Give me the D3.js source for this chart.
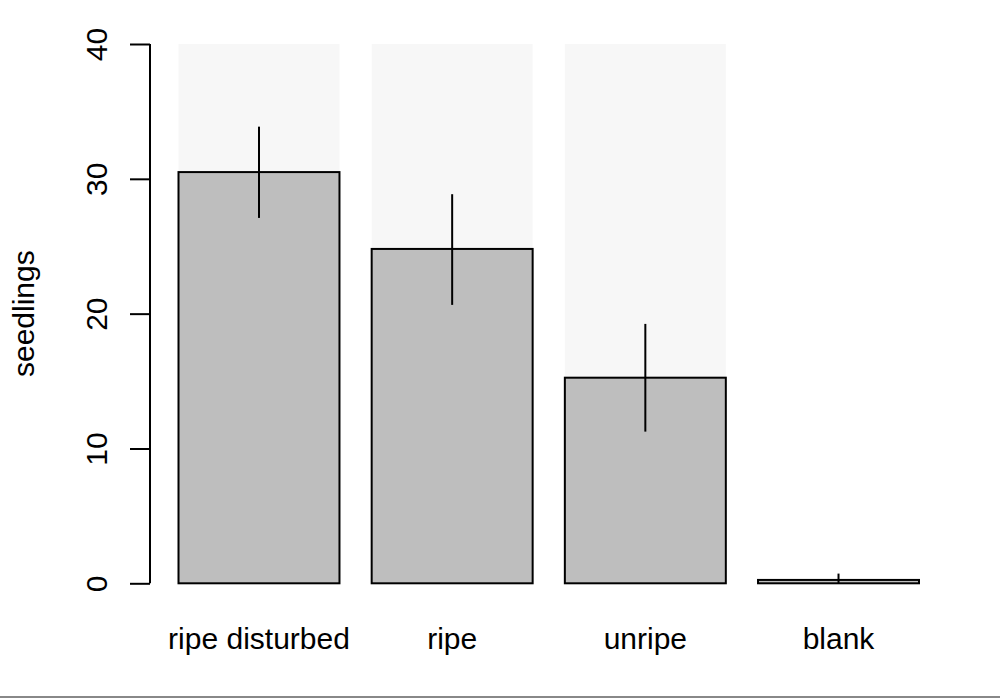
<!DOCTYPE html>
<html>
<head>
<meta charset="utf-8">
<script src="https://cdn.jsdelivr.net/npm/d3@7"></script>
<style>
  body { margin: 0; background: #fff; }
  svg { display: block; font-family: "Liberation Sans", Arial, sans-serif; }
</style>
</head>
<body>
<div class="canvas"></div>
<script>
// data
const categories = ["ripe disturbed", "ripe", "unripe", "blank"]
const means = [30.5, 24.8, 15.25, 0.25]
const errLow = [27.1, 20.65, 11.25, 0]
const errHigh = [33.87, 28.86, 19.24, 0.72]
const backdrop = [40, 40, 40, 0]
const yTicks = [0, 10, 20, 30, 40]

const width = 1000
const height = 698

const svg = d3.select(".canvas").append("svg")
    .attr("width", width)
    .attr("height", height)

// barplot layout: width 1, space 0.2
const x = d3.scaleLinear().domain([0.2, 4.8]).range([178.5, 919])
const y = d3.scaleLinear().domain([0, 40]).range([583.3, 44])

const left = (d, i) => x(0.2 + i * 1.2)
const barW = x(1) - x(0)

// light backdrop up to 40
svg.selectAll("rect.bg")
    .data(backdrop)
    .enter().append("rect")
    .attr("class", "bg")
    .attr("fill", "#f7f7f7")
    .attr("x", left)
    .attr("width", barW)
    .attr("y", d => y(d))
    .attr("height", d => y(0) - y(d))

svg.selectAll("rect.bar")
    .data(means)
    .enter().append("rect")
    .attr("class", "bar")
    .attr("fill", "#bebebe")
    .attr("stroke", "#000")
    .attr("stroke-width", 2)
    .attr("x", left)
    .attr("width", barW)
    .attr("y", d => y(d))
    .attr("height", d => y(0) - y(d))

svg.selectAll("line.err")
    .data(means)
    .enter().append("line")
    .attr("class", "err")
    .attr("stroke", "#000")
    .attr("stroke-width", 2)
    .attr("x1", (d, i) => left(d, i) + barW / 2)
    .attr("x2", (d, i) => left(d, i) + barW / 2)
    .attr("y1", (d, i) => y(errLow[i]))
    .attr("y2", (d, i) => y(errHigh[i]))

// y axis
const yAxis = d3.axisLeft(y).tickValues(yTicks).tickSize(20).tickPadding(0)
const gy = svg.append("g")
    .attr("transform", "translate(150,0)")
    .call(yAxis)
gy.select(".domain").attr("stroke-width", 2).attr("d", `M0,${y(0)}V${y(40)}`)
gy.selectAll(".tick line").attr("stroke-width", 2)
gy.selectAll(".tick text")
    .attr("font-size", 30)
    .attr("fill", "#000")
    .attr("text-anchor", "middle")
    .attr("dy", null)
    .attr("x", null)
    .attr("transform", "translate(-43,0) rotate(-90)")

// category labels
svg.selectAll("text.cat")
    .data(categories)
    .enter().append("text")
    .attr("class", "cat")
    .attr("font-size", 30)
    .attr("text-anchor", "middle")
    .attr("x", (d, i) => left(d, i) + barW / 2)
    .attr("y", 649)
    .text(d => d)

svg.append("text")
    .attr("font-size", 30)
    .attr("text-anchor", "middle")
    .attr("transform", `translate(34,${(y(0) + y(40)) / 2}) rotate(-90)`)
    .text("seedlings")

// thin rule along the bottom
svg.append("line")
    .attr("x1", 0).attr("x2", width)
    .attr("y1", 697).attr("y2", 697)
    .attr("stroke", "#888")
    .attr("stroke-width", 2)
</script>
</body>
</html>
